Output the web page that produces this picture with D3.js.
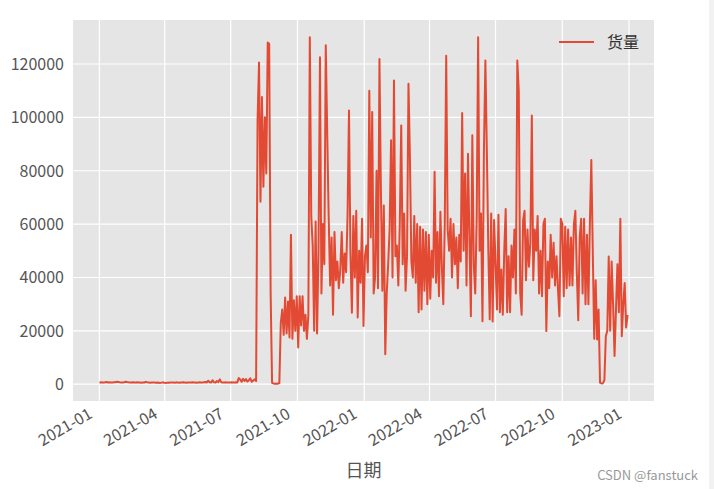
<!DOCTYPE html>
<html>
<head>
  <meta charset="utf-8">
  <title>货量</title>
  <script src="https://d3js.org/d3.v7.min.js"></script>
  <style>
    body { margin: 0; background: #fff; }
    svg { display: block; }
    text { font-family: "Noto Sans CJK SC", "Noto Sans", sans-serif; }
  </style>
</head>
<body>
  <div id="chart"></div>
  <script>
    // one reading every 2 days, starting 2021-01-01
    const startDate = new Date(2021, 0, 1);
    const stepDays = 2;
    const seriesName = "货量";
    const xLabel = "日期";
    const yTicks = [0, 20000, 40000, 60000, 80000, 100000, 120000];

    const volume = [
      600, 700, 650, 600, 700, 800, 650, 700, 600, 650,
      700, 750, 900, 800, 700, 650, 600, 700, 950, 800,
      700, 650, 600, 700, 650, 600, 700, 650, 600, 550,
      600, 650, 900, 700, 600, 550, 600, 650, 600, 550,
      600, 550, 500, 600, 650, 550, 500, 600, 550, 600,
      650, 600, 550, 700, 600, 550, 600, 650, 700, 600,
      550, 600, 650, 600, 700, 650, 600, 550, 600, 700,
      650, 600, 700, 800, 650, 1300, 700, 600, 1500, 700,
      600, 1200, 800, 1800, 700, 600, 650, 700, 600, 650,
      600, 700, 650, 600, 700, 650, 2300, 1800, 900, 2000,
      1200, 1900, 1000, 1500, 2200, 900, 1400, 1800, 1200,
      99000, 120600, 68400, 107600, 74000, 100000, 79000, 128100, 127500, 34300,
      500, 300, 200, 300, 200, 400,
      23000, 28000, 18500, 32500, 19000, 31000, 17500, 56000, 17000, 31500,
      20000, 33000, 13800, 33000, 22000, 33000, 20000, 26000, 17000, 26000,
      130000, 62800, 52000, 20000, 61000, 19000, 50000, 122500, 34000, 60000,
      45000, 127000, 94000, 63000, 37000, 55000, 26000, 57000, 39000, 46000,
      36000, 43000, 57000, 38000, 49000, 42000, 63000, 102600, 49000, 26800,
      63000, 40000, 65000, 25000, 50000, 38000, 62000, 21800, 48000, 52000,
      42000, 110000, 55000, 102000, 34000, 40000, 80000, 36000, 121900, 72000,
      35000, 67000, 11200, 34000, 45000, 58000, 91400, 40000, 113800, 48000,
      52000, 37000, 60000, 97000, 45000, 64000, 35000, 48000, 112600, 84700,
      46000, 40000, 63000, 38000, 60000, 27000, 59000, 28000, 58000, 35000,
      57000, 30000, 56000, 32000, 50000, 40000, 79600, 38000, 57000, 33000,
      64600, 44000, 30000, 60000, 123100, 58000, 50000, 62000, 40000, 60000,
      45000, 55000, 36000, 56000, 46000, 101600, 50000, 79000, 37000, 86400,
      55000, 25500, 93300, 45000, 34000, 62000, 130000, 50000, 64000, 23600,
      88000, 121300, 87700, 51000, 24300, 64000, 23500, 61500, 45000, 28000,
      63500, 27000, 43000, 26000, 50000, 65700, 27000, 48000, 27000, 52000,
      40000, 58000, 34000, 121300, 110000, 34000, 26000, 61500, 65000, 39000,
      58000, 44000, 53000, 100700, 39000, 58000, 50000, 63000, 34000, 50000,
      33000, 60000, 62000, 19900, 46000, 36000, 56000, 40000, 53000, 37000,
      48000, 36000, 25500, 62000, 60000, 33000, 59000, 36000, 58000, 37000,
      55000, 37000, 60000, 65000, 42000, 24000, 55000, 62000, 34000, 62000,
      30000, 56000, 30000, 60000, 84000, 50000, 17000, 39000, 16800, 28000,
      600, 300, 400, 1500, 18000, 20000, 47900, 20000, 46000, 30000,
      10600, 28000, 45000, 27000, 62000, 18000, 30000, 37900, 21300, 26000
    ];

    const data = volume.map((v, i) => ({ date: d3.timeDay.offset(startDate, i * stepDays), value: v }));

    const width = 714, height = 489;
    const margin = { top: 20, right: 60, bottom: 88, left: 73 };
    const iw = width - margin.left - margin.right;
    const ih = height - margin.top - margin.bottom;

    const svg = d3.select("#chart").append("svg").attr("width", width).attr("height", height);
    const g = svg.append("g").attr("transform", `translate(${margin.left},${margin.top})`);

    // matplotlib-like 5% padding
    const [d0, d1] = d3.extent(data, d => d.date);
    const dPad = (d1 - d0) * 0.05;
    const x = d3.scaleTime().domain([new Date(+d0 - dPad), new Date(+d1 + dPad)]).range([0, iw]);
    const [v0, v1] = d3.extent(data, d => d.value);
    const vPad = (v1 - v0) * 0.05;
    const y = d3.scaleLinear().domain([v0 - vPad, v1 + vPad]).range([ih, 0]);

    g.append("rect").attr("width", iw).attr("height", ih).attr("fill", "#e5e5e5");

    const xTicks = x.ticks(d3.timeMonth.every(3));

    g.append("g").selectAll("line").data(xTicks).enter().append("line")
      .attr("x1", d => x(d)).attr("x2", d => x(d)).attr("y1", 0).attr("y2", ih)
      .attr("stroke", "#fff").attr("stroke-width", 1.2);
    g.append("g").selectAll("line").data(yTicks).enter().append("line")
      .attr("x1", 0).attr("x2", iw).attr("y1", d => y(d)).attr("y2", d => y(d))
      .attr("stroke", "#fff").attr("stroke-width", 1.2);

    // y tick labels
    g.append("g").selectAll("text").data(yTicks).enter().append("text")
      .attr("x", -9).attr("y", d => y(d)).attr("dy", "0.36em")
      .attr("text-anchor", "end").attr("font-size", 16).attr("fill", "#555")
      .text(d => d3.format("d")(d));

    // x tick labels, rotated like autofmt_xdate
    g.append("g").selectAll("text").data(xTicks).enter().append("text")
      .attr("transform", d => `translate(${x(d) - 6},${ih + 16}) rotate(-30)`)
      .attr("text-anchor", "end").attr("font-size", 16).attr("fill", "#555")
      .text(d => d3.timeFormat("%Y-%m")(d));

    const line = d3.line().x(d => x(d.date)).y(d => y(d.value));
    g.append("path").datum(data)
      .attr("d", line).attr("fill", "none")
      .attr("stroke", "#e24a33").attr("stroke-width", 2).attr("stroke-linejoin", "round");

    // legend
    const lg = g.append("g").attr("transform", `translate(${iw - 95},${22})`);
    lg.append("line").attr("x1", 0).attr("x2", 35).attr("y1", 0).attr("y2", 0)
      .attr("stroke", "#e24a33").attr("stroke-width", 2);
    lg.append("text").attr("x", 48).attr("dy", "0.36em").attr("font-size", 16).attr("fill", "#333")
      .text(seriesName);

    svg.append("text").attr("x", margin.left + iw / 2).attr("y", 477)
      .attr("text-anchor", "middle").attr("font-size", 18).attr("fill", "#555").text(xLabel);

    // page edge strip and watermark from the screenshot
    svg.append("rect").attr("x", 709).attr("y", 0).attr("width", 5).attr("height", height).attr("fill", "#f2f2f2");
    svg.append("text").attr("x", 698).attr("y", 480).attr("text-anchor", "end")
      .attr("font-size", 13).attr("fill", "#999").attr("font-family", "Arial, 'Liberation Sans', sans-serif")
      .text("CSDN @fanstuck");
  </script>
</body>
</html>
